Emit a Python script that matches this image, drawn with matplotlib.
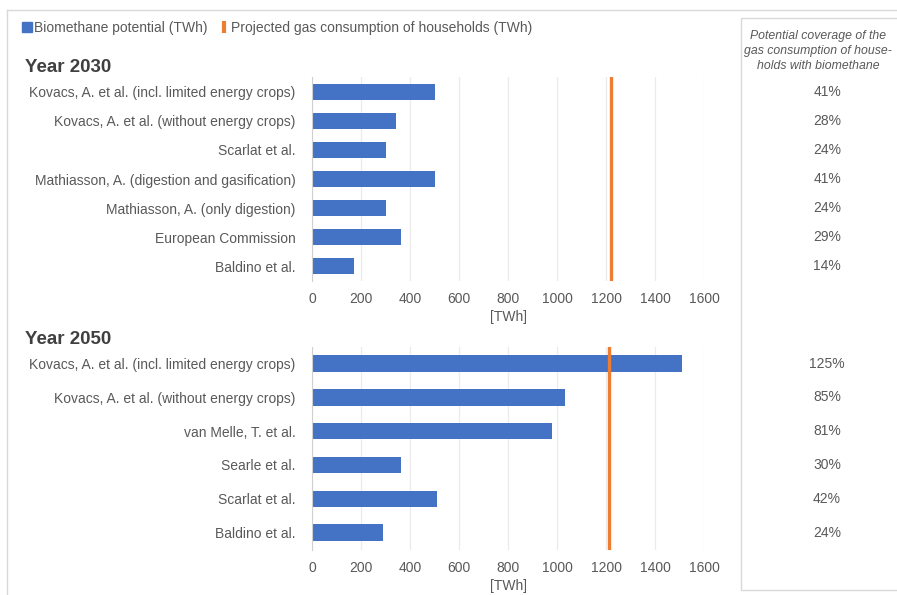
import matplotlib.pyplot as plt
import matplotlib.transforms as mtransforms
from matplotlib.lines import Line2D
from matplotlib.patches import Rectangle

plt.rcParams['font.family'] = ['Liberation Sans', 'DejaVu Sans']

# 数据
labels_2030 = ['Kovacs, A. et al. (incl. limited energy crops)',
               'Kovacs, A. et al. (without energy crops)',
               'Scarlat et al.',
               'Mathiasson, A. (digestion and gasification)',
               'Mathiasson, A. (only digestion)',
               'European Commission',
               'Baldino et al.']
values_2030 = [500, 340, 300, 500, 300, 360, 170]
coverage_2030 = ['41%', '28%', '24%', '41%', '24%', '29%', '14%']
households_2030 = 1220

labels_2050 = ['Kovacs, A. et al. (incl. limited energy crops)',
               'Kovacs, A. et al. (without energy crops)',
               'van Melle, T. et al.',
               'Searle et al.',
               'Scarlat et al.',
               'Baldino et al.']
values_2050 = [1510, 1030, 980, 360, 510, 290]
coverage_2050 = ['125%', '85%', '81%', '30%', '42%', '24%']
households_2050 = 1210

x_ticks = [0, 200, 400, 600, 800, 1000, 1200, 1400, 1600]

blue = '#4472C4'
orange = '#ED7D31'
txt = '#595959'
W, H = 897, 595

fig = plt.figure(figsize=(W / 100, H / 100), dpi=100)


def fx(px):
    return px / W


def fy(py):
    return 1 - py / H


def draw_panel(rect, labels, values, line_val, coverage, bar_h, title, title_y):
    ax = fig.add_axes(rect)
    y = list(range(len(labels)))
    ax.barh(y, values, height=bar_h, color=blue, zorder=2)
    ax.axvline(line_val, color=orange, lw=2.4, zorder=3)
    ax.set_ylim(len(labels) - 0.5, -0.5)
    ax.set_xlim(0, 1600)
    ax.set_xticks(x_ticks)
    ax.set_xticklabels([str(t) for t in x_ticks])
    ax.set_yticks(y)
    ax.set_yticklabels(labels)
    ax.tick_params(axis='both', length=0, labelsize=10, labelcolor=txt)
    ax.tick_params(axis='y', pad=12)
    ax.tick_params(axis='x', pad=8)
    ax.grid(axis='x', color='#ebebeb', lw=0.9, zorder=0)
    for s in ['top', 'right', 'bottom']:
        ax.spines[s].set_visible(False)
    ax.spines['left'].set_color('#d0d0d0')
    ax.spines['left'].set_zorder(4)
    ax.set_xlabel('[TWh]', fontsize=10, color=txt, labelpad=3)
    # 覆盖率文本
    trans = mtransforms.blended_transform_factory(fig.transFigure, ax.transData)
    for yi, c in zip(y, coverage):
        ax.text(fx(827), yi, c, transform=trans, ha='center', va='center',
                fontsize=10, color=txt, clip_on=False)
    fig.text(fx(25), fy(title_y), title, fontsize=13.5, fontweight='bold',
             color='#404040', ha='left', va='center')
    return ax


draw_panel([fx(312.3), fy(281), fx(392), 204 / H], labels_2030, values_2030,
           households_2030, coverage_2030, 0.55, 'Year 2030', 67)
draw_panel([fx(312.3), fy(549.5), fx(392), 202.8 / H], labels_2050, values_2050,
           households_2050, coverage_2050, 0.48, 'Year 2050', 339)

# 外框
fig.add_artist(Line2D([fx(7), fx(897)], [fy(10), fy(10)], color='#d9d9d9', lw=1))
fig.add_artist(Line2D([fx(7), fx(7)], [fy(10), fy(595)], color='#d9d9d9', lw=1))
fig.add_artist(Rectangle((fx(741), fy(590)), fx(160), (590 - 18) / H,
                         transform=fig.transFigure, fill=False,
                         edgecolor='#d9d9d9', lw=1))

fig.text(fx(818), fy(51), 'Potential coverage of the\ngas consumption of house-\nholds with biomethane',
         fontsize=8.8, style='italic', color=txt, ha='center', va='center', linespacing=1.35)

# 图例
handles = [Line2D([], [], color=blue, marker='s', linestyle='None', markersize=6.5),
           Line2D([], [], color=orange, marker='|', linestyle='None', markersize=9,
                  markeredgewidth=3)]
leg = fig.legend(handles, ['Biomethane potential (TWh)',
                           'Projected gas consumption of households (TWh)'],
                 loc='center left', bbox_to_anchor=(fx(16), fy(28)), ncol=2,
                 frameon=False, fontsize=10, handlelength=0.6, handletextpad=0.2,
                 columnspacing=0.9, borderpad=0)
for t in leg.get_texts():
    t.set_color(txt)

plt.savefig('out.png', dpi=100)
